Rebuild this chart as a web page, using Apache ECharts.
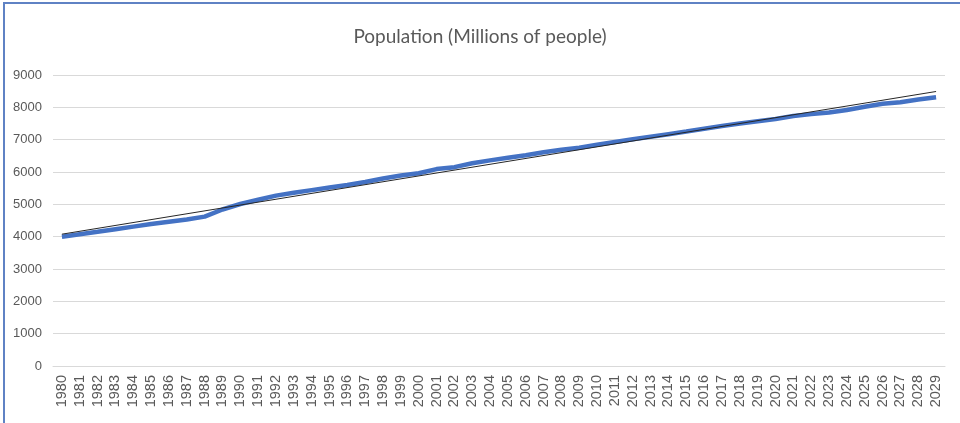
<!DOCTYPE html>
<html>
<head>
<meta charset="utf-8">
<script src="https://cdn.jsdelivr.net/npm/echarts@6/dist/echarts.min.js"></script>
<style>
    html, body { margin: 0; padding: 0; background: #fff; }
    #frame {
        position: absolute; left: 3px; top: 2px; width: 957px; height: 421px;
        border-top: 2px solid #5f82c4; border-left: 2px solid #5f82c4;
        box-sizing: border-box;
    }
    #echart1 { position: absolute; left: 0; top: 0; width: 960px; height: 423px; }
</style>
</head>
<body>
<div id="frame"></div>
<div id="echart1"></div>
<script>
// years on the category axis
var years = [];
for (var y = 1980; y <= 2029; y++) years.push(String(y));

// population, millions of people
var population = [
    4000, 4075, 4150, 4230, 4310, 4390, 4460, 4530, 4620, 4840,
    5010, 5140, 5270, 5360, 5440, 5520, 5600, 5690, 5800, 5890,
    5960, 6090, 6150, 6270, 6360, 6440, 6520, 6610, 6690, 6750,
    6840, 6930, 7010, 7090, 7170, 7250, 7340, 7420, 7500, 7570,
    7640, 7730, 7790, 7840, 7920, 8020, 8110, 8160, 8240, 8310
];

// linear trendline end points
var trendStart = 4077;
var trendEnd = 8490;

var yTicks = [0, 1000, 2000, 3000, 4000, 5000, 6000, 7000, 8000, 9000];

var myChart1 = echarts.init(document.getElementById('echart1'));

var option1 = {
    backgroundColor: 'transparent',
    animation: false,
    title: {
        text: 'Population (Millions of people)',
        left: 'center',
        top: 22,
        textStyle: {
            color: '#595959',
            fontFamily: 'Lato',
            fontSize: 19,
            fontWeight: 'normal'
        }
    },
    grid: {
        left: 53,
        right: 15,
        top: 75,
        bottom: 57
    },
    xAxis: {
        type: 'category',
        data: years,
        boundaryGap: true,
        axisLine: { lineStyle: { color: '#d9d9d9', width: 1 } },
        axisTick: { show: false },
        axisLabel: {
            rotate: 90,
            interval: 0,
            color: '#595959',
            fontFamily: 'Liberation Sans',
            fontSize: 14.5,
            margin: 9
        }
    },
    yAxis: {
        type: 'value',
        min: yTicks[0],
        max: yTicks[yTicks.length - 1],
        interval: 1000,
        axisLine: { show: false },
        axisTick: { show: false },
        splitLine: { lineStyle: { color: '#d9d9d9', width: 1 } },
        axisLabel: {
            color: '#595959',
            fontFamily: 'Liberation Sans',
            fontSize: 13,
            margin: 11,
            formatter: function (v) { return String(v); }
        }
    },
    series: [{
        name: 'Population',
        type: 'line',
        data: population,
        symbol: 'none',
        lineStyle: { color: '#4472c4', width: 4.5 },
        z: 3,
        markLine: {
            silent: true,
            symbol: 'none',
            label: { show: false },
            lineStyle: { color: '#262626', width: 1, type: 'solid' },
            z: 4,
            data: [[
                { coord: [years[0], trendStart] },
                { coord: [years[years.length - 1], trendEnd] }
            ]]
        }
    }]
};

myChart1.setOption(option1);

window.addEventListener("resize", function () {
    myChart1.resize();
});
</script>
</body>
</html>
